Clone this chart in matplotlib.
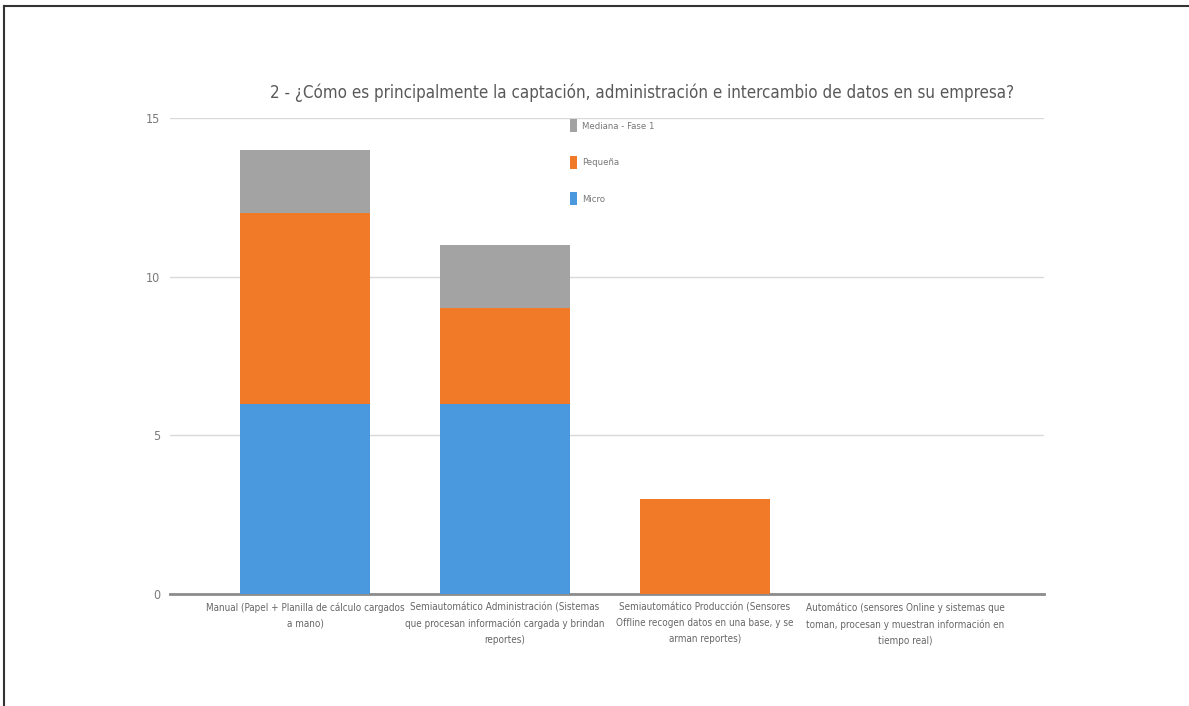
import numpy as np
import matplotlib.pyplot as plt
from matplotlib.lines import Line2D

categories = [
    "Manual (Papel + Planilla de cálculo cargados\na mano)",
    "Semiautomático Administración (Sistemas\nque procesan información cargada y brindan\nreportes)",
    "Semiautomático Producción (Sensores\nOffline recogen datos en una base, y se\narman reportes)",
    "Automático (sensores Online y sistemas que\ntoman, procesan y muestran información en\ntiempo real)",
]
micro = [6, 6, 0, 0]
pequena = [6, 3, 3, 0]
mediana = [2, 2, 0, 0]
series_names = ["Micro", "Pequeña", "Mediana - Fase 1"]
yticks = [0, 5, 10, 15]

plt.rcParams['font.family'] = ['DejaVu Sans']
plt.rcParams['font.stretch'] = 'condensed'

fig = plt.figure(figsize=(11.89, 7.06), dpi=100)
ax = fig.add_axes([0.143, 0.1586, 0.735, 0.6742])

x = np.arange(len(categories))
w = 0.65
b1 = ax.bar(x, micro, w, color='#4A98DE', label=series_names[0], zorder=3)
b2 = ax.bar(x, pequena, w, bottom=micro, color='#F07A28', label=series_names[1], zorder=3)
bot = np.array(micro) + np.array(pequena)
b3 = ax.bar(x, mediana, w, bottom=bot, color='#A3A3A3', label=series_names[2], zorder=3)

ax.set_xlim(-0.675, 3.695)
ax.set_ylim(0, 15)
ax.set_yticks(yticks)
ax.set_yticklabels([str(v) for v in yticks], fontsize=9, color='#7a7a7a')
ax.set_xticks(x)
ax.set_xticklabels(categories, fontsize=7.1, color='#666666', linespacing=1.75)
ax.tick_params(length=0, pad=6)
ax.tick_params(axis='y', pad=7)
ax.grid(axis='y', color='#d9d9d9', linewidth=1, zorder=0)
for s in ['top', 'right', 'left']:
    ax.spines[s].set_visible(False)
ax.spines['bottom'].set_color('#8c8c8c')
ax.spines['bottom'].set_linewidth(2)

fig.text(0.540, 0.869, "2 - ¿Cómo es principalmente la captación, administración e intercambio de datos en su empresa?",
         ha='center', va='center', fontsize=12.2, color='#595959')

leg = ax.legend(handles=[b3, b2, b1], loc='upper left', bbox_to_anchor=(0.448, 1.015),
                frameon=False, fontsize=6.8, labelcolor='#777777',
                handlelength=0.7, handleheight=1.7, labelspacing=2.5, handletextpad=0.6)

# frame lines from the page
fig.add_artist(Line2D([0.0034, 1.0], [0.9915, 0.9915], color='#333333', linewidth=1.5))
fig.add_artist(Line2D([0.0034, 0.0034], [0.0, 0.9915], color='#333333', linewidth=1.5))

fig.savefig('out.png', dpi=100)
